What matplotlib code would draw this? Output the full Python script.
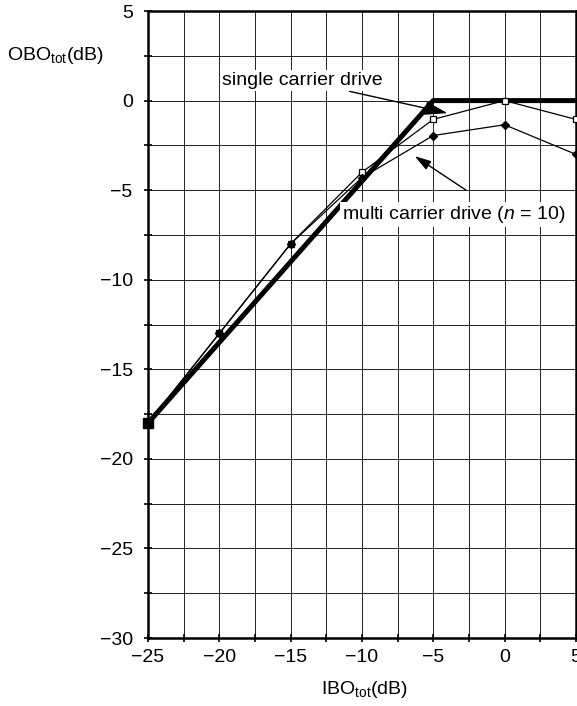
import numpy as np
import matplotlib
matplotlib.use('Agg')
import matplotlib.pyplot as plt

plt.rcParams['font.family'] = ['Liberation Sans', 'DejaVu Sans']
plt.rcParams['mathtext.fontset'] = 'custom'
plt.rcParams['mathtext.rm'] = 'Liberation Sans'
plt.rcParams['mathtext.it'] = 'Liberation Sans:italic'

# input back-off (dB)
ibo = [-25, -20, -15, -10, -5, 0, 5]
# output back-off curves (dB)
obo_single = [-18, -13.5, -9, -4.5, 0, 0, 0]
obo_multi_sq = [-18, -13, -8, -4.0, -1.05, 0, -1.05]
obo_multi_dot = [-18, -13, -8, -4.3, -1.95, -1.35, -3.0]

x_ticks = [-25, -20, -15, -10, -5, 0, 5]
y_ticks = [5, 0, -5, -10, -15, -20, -25, -30]

FS = 14

fig = plt.figure(figsize=(5.77, 7.06), dpi=100)
ax = fig.add_axes([0.2565, 0.0963, 0.7415, 0.8881])

ax.set_xlim(-25, 5)
ax.set_ylim(-30, 5)
ax.set_xticks(x_ticks)
ax.set_yticks(y_ticks)
ax.set_xticks(np.arange(-25, 5.1, 2.5), minor=True)
ax.set_yticks(np.arange(-30, 5.1, 2.5), minor=True)
ax.set_xticklabels(['\u221225', '\u221220', '\u221215', '\u221210', '\u22125', '0', '5'])
ax.set_yticklabels(['5', '0', '\u22125', '\u221210', '\u221215', '\u221220', '\u221225', '\u221230'])
ax.grid(True, which='both', color='#222222', lw=0.7)
ax.set_axisbelow(True)
ax.tick_params(which='both', direction='inout', length=6, width=1.2, labelsize=FS, colors='black')
ax.tick_params(axis='x', pad=5)
ax.tick_params(axis='y', pad=8)
for s in ax.spines.values():
    s.set_linewidth(1.8)

ax.plot(ibo, obo_single, color='black', lw=3.6, solid_capstyle='butt', zorder=3)
ax.plot(ibo, obo_multi_sq, color='black', lw=0.9, marker='s', ms=5,
        mfc='white', mec='black', mew=0.9, zorder=4, clip_on=False)
ax.plot(ibo, obo_multi_dot, color='black', lw=0.9, marker='D', ms=4.5,
        mfc='black', mec='black', zorder=5)
ax.plot([-25], [-18], marker='s', ms=6.5, color='black', zorder=6, clip_on=False)

box = dict(boxstyle='square,pad=0.1', fc='white', ec='none')
arrow = dict(arrowstyle='-|>,head_length=1.0,head_width=0.3',
             color='black', lw=1.0, shrinkA=0, shrinkB=0)
ax.annotate('single carrier drive', xy=(-4.0, -0.7), xytext=(-19.8, 1.1),
            fontsize=FS, va='center', ha='left', bbox=box, zorder=7,
            arrowprops=arrow)
ax.annotate('', xy=(-6.3, -3.1), xytext=(-2.7, -5.0), zorder=7, arrowprops=arrow)
ax.text(-11.4, -6.36, r'multi carrier drive ($n$ = 10)', fontsize=FS,
        va='center', ha='left', bbox=box, zorder=7)

fig.text(0.012, 0.922, r'OBO$_{\mathrm{tot}}$(dB)', fontsize=FS, va='center', ha='left')
fig.text(0.631, 0.023, r'IBO$_{\mathrm{tot}}$(dB)', fontsize=FS, va='center', ha='center')

fig.savefig('out.png', dpi=100)
